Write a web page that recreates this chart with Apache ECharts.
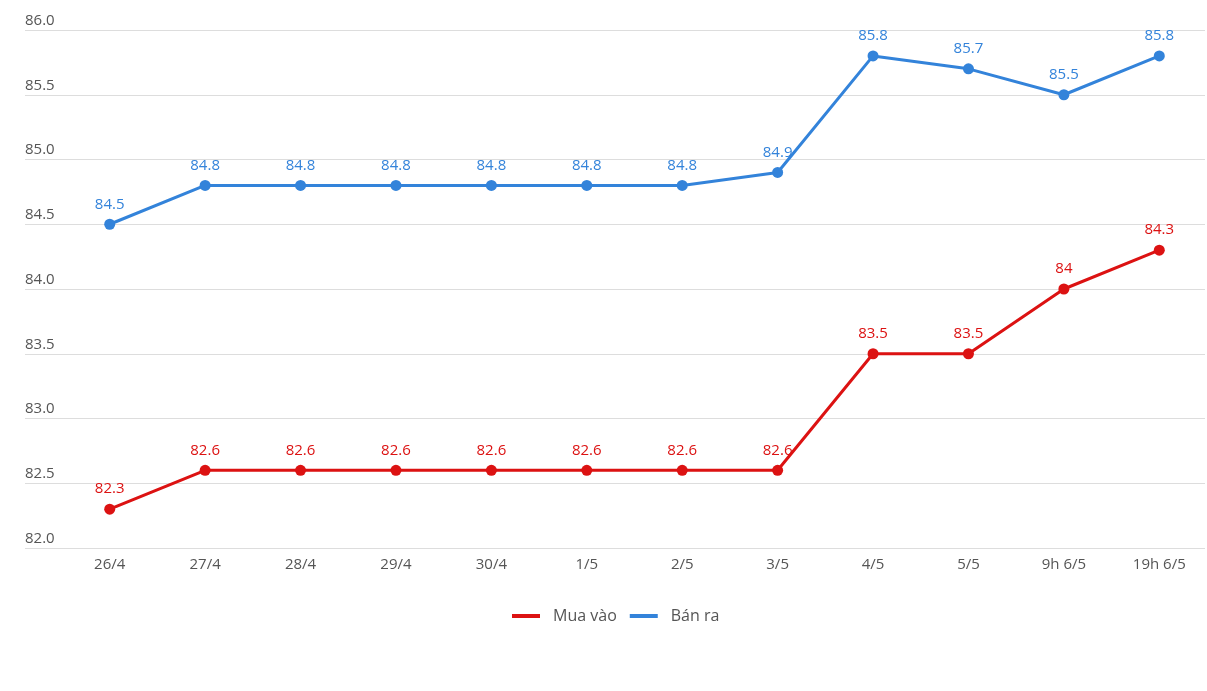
<!DOCTYPE html>
<html>
<head>
<meta charset="utf-8">
<script src="https://cdn.jsdelivr.net/npm/echarts@6/dist/echarts.min.js"></script>
<style>
  html, body { margin: 0; padding: 0; background: #fff; }
  #chart { width: 1207px; height: 691px; }
</style>
</head>
<body>
<div id="chart"></div>
<script>
// dữ liệu
const categories = ['26/4', '27/4', '28/4', '29/4', '30/4', '1/5', '2/5', '3/5', '4/5', '5/5', '9h 6/5', '19h 6/5'];
const muaVao = [82.3, 82.6, 82.6, 82.6, 82.6, 82.6, 82.6, 82.6, 83.5, 83.5, 84, 84.3];
const banRa = [84.5, 84.8, 84.8, 84.8, 84.8, 84.8, 84.8, 84.9, 85.8, 85.7, 85.5, 85.8];
const yMin = 82;
const yMax = 86;
const yStep = 0.5;

const RED = '#dc1212';
const BLUE = '#3383da';
const TEXT = '#555';
const FONT = '"Open Sans", "Noto Sans", sans-serif';

const chart = echarts.init(document.getElementById('chart'));

const makeSeries = (name, data, color) => ({
  name: name,
  type: 'line',
  xAxisIndex: 1,
  yAxisIndex: 1,
  data: data,
  symbol: 'circle',
  symbolSize: 11,
  lineStyle: { color: color, width: 3 },
  itemStyle: { color: color },
  label: {
    show: true,
    position: 'top',
    distance: 7,
    color: color,
    fontSize: 15,
    fontFamily: FONT
  }
});

chart.setOption({
  animation: false,
  legend: {
    data: ['Mua vào', 'Bán ra'],
    bottom: 62,
    left: 507,
    itemWidth: 28,
    itemHeight: 4,
    itemGap: 13,
    icon: 'rect',
    textStyle: { color: TEXT, fontSize: 16, fontFamily: FONT, padding: [0, 0, 0, 8] }
  },
  grid: [
    // lưới nền + nhãn trục tung
    { left: 25, right: 2, top: 30, bottom: 143 },
    // vùng dữ liệu
    { left: 62, right: 0, top: 30, bottom: 143 }
  ],
  xAxis: [
    { gridIndex: 0, type: 'category', data: categories, show: false },
    {
      gridIndex: 1,
      type: 'category',
      data: categories,
      boundaryGap: true,
      axisLine: { show: false },
      axisTick: { show: false },
      axisLabel: { color: TEXT, fontSize: 15, fontFamily: FONT, margin: 9 }
    }
  ],
  yAxis: [
    {
      gridIndex: 0,
      type: 'value',
      min: yMin,
      max: yMax,
      interval: yStep,
      axisLine: { show: false },
      axisTick: { show: false },
      splitLine: { lineStyle: { color: '#ddd', width: 1 } },
      axisLabel: {
        inside: true,
        verticalAlign: 'bottom',
        margin: 0,
        padding: [0, 0, 2, 0],
        color: TEXT,
        fontSize: 15,
        fontFamily: FONT,
        formatter: (v) => v.toFixed(1)
      }
    },
    {
      gridIndex: 1,
      type: 'value',
      min: yMin,
      max: yMax,
      interval: yStep,
      show: false
    }
  ],
  series: [
    makeSeries('Mua vào', muaVao, RED),
    makeSeries('Bán ra', banRa, BLUE)
  ]
});
</script>
</body>
</html>
